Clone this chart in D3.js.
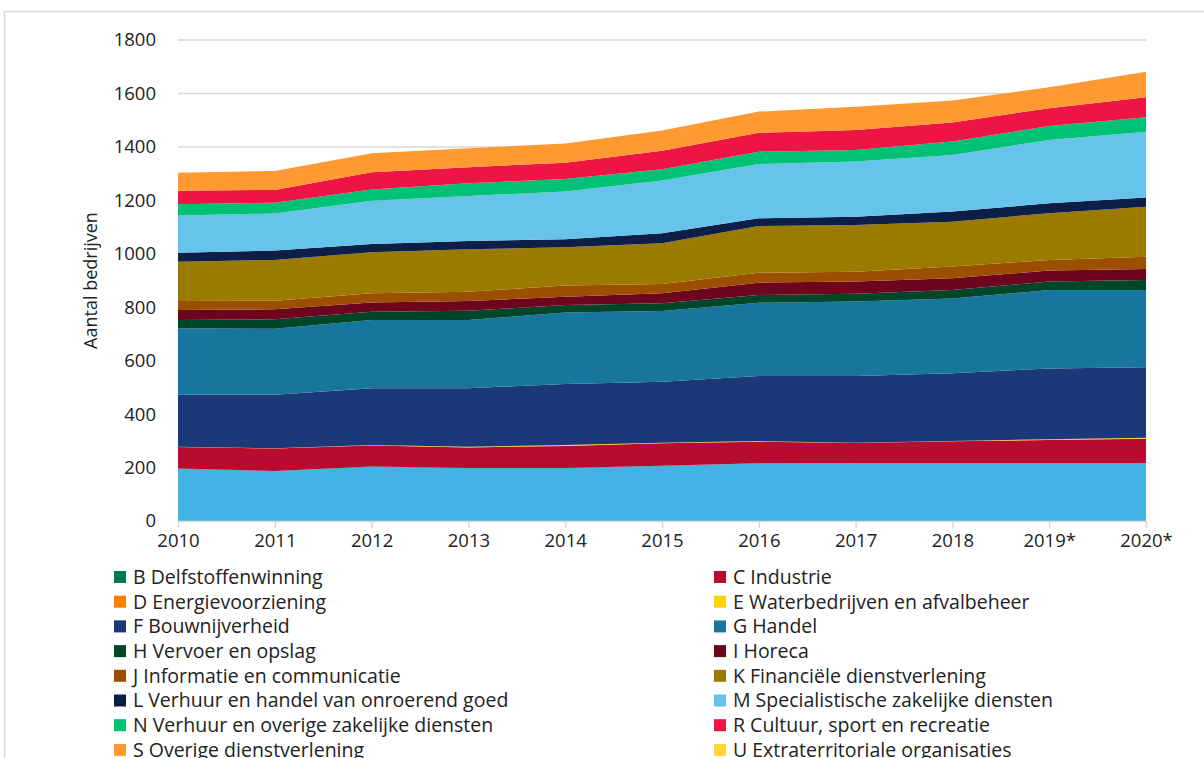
<!DOCTYPE html>
<html>
<head>
<meta charset="utf-8">
<script src="https://cdn.jsdelivr.net/npm/d3@7"></script>
<style>
  body { margin: 0; background: #fff; }
  text { font-family: "Segoe UI", "Open Sans", "Noto Sans", sans-serif; fill: #222; }
</style>
</head>
<body>
<svg id="chart" width="1204" height="758"></svg>
<script>
// years on the x axis
var years = ["2010", "2011", "2012", "2013", "2014", "2015", "2016", "2017", "2018", "2019*", "2020*"];

// number of companies per sector
var serA = [195, 186, 203, 197, 197, 206, 215, 216, 216, 216, 216];
var serB = [1, 1, 1, 1, 1, 1, 1, 1, 1, 1, 1];
var serC = [81, 84, 79, 77, 83, 84, 81, 75, 81, 86, 91];
var serD = [1, 1, 1, 1, 1, 1, 1, 1, 1, 1, 1];
var serE = [0, 0, 0, 2, 2, 1, 1, 0, 0, 2, 3];
var serF = [194, 200, 213, 219, 229, 228, 244, 250, 254, 265, 263];
var serG = [249, 247, 255, 255, 267, 265, 274, 278, 280, 293, 289];
var serH = [31, 36, 31, 35, 28, 29, 29, 29, 31, 32, 38];
var serI = [38, 37, 35, 36, 31, 37, 46, 46, 44, 41, 41];
var serJ = [33, 32, 34, 35, 42, 35, 37, 37, 44, 40, 46];
var serK = [147, 153, 154, 159, 143, 152, 175, 175, 168, 175, 187];
var serL = [34, 35, 31, 31, 30, 38, 29, 31, 38, 37, 35];
var serM = [139, 139, 161, 168, 179, 197, 203, 206, 212, 237, 246];
var serN = [42, 40, 43, 48, 47, 42, 46, 43, 50, 52, 54];
var serR = [51, 48, 64, 60, 61, 70, 71, 75, 71, 67, 75];
var serS = [67, 71, 71, 71, 72, 75, 79, 87, 83, 78, 95];
var serU = [0, 0, 0, 0, 0, 0, 0, 0, 0, 0, 0];

var yTicks = [0, 200, 400, 600, 800, 1000, 1200, 1400, 1600, 1800];

// stacking order bottom -> top; A is drawn but has no legend entry (as in the source)
var series = [
  { key: "A", name: "A Landbouw, bosbouw en visserij", values: serA, color: "#41b3e4", legend: false },
  { key: "B", name: "B Delfstoffenwinning", values: serB, color: "#007a4d", legend: true },
  { key: "C", name: "C Industrie", values: serC, color: "#b70c2f", legend: true },
  { key: "D", name: "D Energievoorziening", values: serD, color: "#ff7f00", legend: true },
  { key: "E", name: "E Waterbedrijven en afvalbeheer", values: serE, color: "#ffd200", legend: true },
  { key: "F", name: "F Bouwnijverheid", values: serF, color: "#1b3878", legend: true },
  { key: "G", name: "G Handel", values: serG, color: "#16769e", legend: true },
  { key: "H", name: "H Vervoer en opslag", values: serH, color: "#00462a", legend: true },
  { key: "I", name: "I Horeca", values: serI, color: "#6e051f", legend: true },
  { key: "J", name: "J Informatie en communicatie", values: serJ, color: "#9c4f00", legend: true },
  { key: "K", name: "K Financiële dienstverlening", values: serK, color: "#9a7b00", legend: true },
  { key: "L", name: "L Verhuur en handel van onroerend goed", values: serL, color: "#0e1f47", legend: true },
  { key: "M", name: "M Specialistische zakelijke diensten", values: serM, color: "#66c3ea", legend: true },
  { key: "N", name: "N Verhuur en overige zakelijke diensten", values: serN, color: "#00c176", legend: true },
  { key: "R", name: "R Cultuur, sport en recreatie", values: serR, color: "#ee1544", legend: true },
  { key: "S", name: "S Overige dienstverlening", values: serS, color: "#ff9a33", legend: true },
  { key: "U", name: "U Extraterritoriale organisaties", values: serU, color: "#ffd733", legend: true }
];

var svg = d3.select("#chart");

// outer frame (only top and left edges are visible in the crop)
svg.append("line").attr("x1", 4.5).attr("x2", 1204).attr("y1", 11.5).attr("y2", 11.5)
  .attr("stroke", "#d9d9d9").attr("stroke-width", 1.5);
svg.append("line").attr("x1", 4.5).attr("x2", 4.5).attr("y1", 11.5).attr("y2", 758)
  .attr("stroke", "#d9d9d9").attr("stroke-width", 1.5);

var margin = { left: 178, right: 1146, top: 40, bottom: 521 };

var x = d3.scalePoint().domain(years).range([margin.left, margin.right]);
var y = d3.scaleLinear().domain([0, 1800]).range([margin.bottom, margin.top]);

// table for d3.stack
var table = years.map(function (yr, i) {
  var row = { year: yr };
  series.forEach(function (s) { row[s.key] = s.values[i]; });
  return row;
});

var stack = d3.stack().keys(series.map(function (s) { return s.key; }));
var layers = stack(table);

// gridlines
svg.append("g").selectAll("line").data(yTicks.filter(function (d) { return d > 0; }))
  .enter().append("line")
  .attr("x1", margin.left).attr("x2", margin.right)
  .attr("y1", function (d) { return y(d); }).attr("y2", function (d) { return y(d); })
  .attr("stroke", "#d9d9d9").attr("stroke-width", 1.5);

var area = d3.area()
  .x(function (d) { return x(d.data.year); })
  .y0(function (d) { return y(d[0]); })
  .y1(function (d) { return y(d[1]); });

var colorOf = {};
series.forEach(function (s) { colorOf[s.key] = s.color; });

svg.append("g").selectAll("path").data(layers)
  .enter().append("path")
  .attr("d", area)
  .attr("fill", function (d) { return colorOf[d.key]; });

// x axis
var xAxis = svg.append("g")
  .attr("transform", "translate(0," + margin.bottom + ")")
  .call(d3.axisBottom(x).tickSize(7).tickPadding(6));
xAxis.select(".domain").attr("stroke", "#d9d9d9").attr("stroke-width", 1.5)
  .attr("d", "M" + margin.left + ",0.5H" + margin.right);
xAxis.selectAll(".tick line").attr("stroke", "#d9d9d9").attr("stroke-width", 1.5);
xAxis.selectAll("text").style("font-size", "18.5px").attr("fill", "#222");

// y axis (labels only)
var yAxis = svg.append("g")
  .attr("transform", "translate(" + (margin.left - 22) + ",0)")
  .call(d3.axisLeft(y).tickValues(yTicks).tickFormat(d3.format("d")).tickSize(0).tickPadding(0));
yAxis.select(".domain").remove();
yAxis.selectAll("text").style("font-size", "18.5px").attr("fill", "#222");

svg.append("text")
  .attr("transform", "translate(97," + ((margin.top + margin.bottom) / 2) + ") rotate(-90)")
  .attr("text-anchor", "middle")
  .style("font-size", "18px")
  .text("Aantal bedrijven");

// legend, two columns
var legendItems = series.filter(function (s) { return s.legend; });
var legend = svg.append("g");
var rowH = 24.7;
legendItems.forEach(function (s, i) {
  var col = i % 2, row = Math.floor(i / 2);
  var lx = col === 0 ? 114 : 714;
  var ly = 577 + row * rowH;
  legend.append("rect")
    .attr("x", lx).attr("y", ly - 6)
    .attr("width", 12).attr("height", 12)
    .attr("fill", s.color);
  legend.append("text")
    .attr("x", lx + 19).attr("y", ly)
    .attr("dy", "0.35em")
    .style("font-size", "19.5px")
    .text(s.name);
});
</script>
</body>
</html>
